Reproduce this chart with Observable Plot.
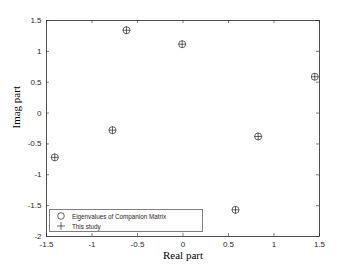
<!DOCTYPE html>
<html>
<head>
<meta charset="utf-8">
<script src="https://cdn.jsdelivr.net/npm/d3@7"></script>
<script src="https://cdn.jsdelivr.net/npm/@observablehq/plot@0.6"></script>
<style>
  html, body { margin: 0; padding: 0; background: #fff; }
  #wrap { position: relative; width: 354px; height: 265px; }
  #legend {
    position: absolute; left: 49px; top: 209px; width: 154px; height: 23px;
    border: 1px solid #7f7f7f; background: #fff; box-sizing: border-box;
    font-family: "Liberation Sans", Arial, sans-serif; font-size: 6.3px; color: #262626;
  }
  .row { position: absolute; left: 0; height: 10px; display: flex; align-items: center; }
  .row svg { margin-left: 7px; margin-right: 7px; }
</style>
</head>
<body>
<div id="wrap"></div>
<script>
const realPart = [-1.409, -0.775, -0.621, -0.009, 1.448, 0.826, 0.577];
const imagPart = [-0.718, -0.277, 1.342, 1.116, 0.589, -0.379, -1.568];
const xTicks = [-1.5, -1, -0.5, 0, 0.5, 1, 1.5];
const yTicks = [-2, -1.5, -1, -0.5, 0, 0.5, 1, 1.5];
const seriesNames = ["Eigenvalues of Companion Matrix", "This study"];

const pts = realPart.map((x, i) => ({x, y: imagPart[i]}));
const W = 354, H = 265, mL = 46, mR = 35, mT = 20, mB = 29;
const innerH = H - mT - mB, innerW = W - mL - mR;
const axisColor = "#262626";
const tk = 3;

const chart = Plot.plot({
  width: W, height: H,
  marginLeft: mL, marginRight: mR, marginTop: mT, marginBottom: mB,
  style: {fontFamily: "Liberation Sans, Arial, sans-serif", fontSize: "8px", color: axisColor, background: "#fff"},
  x: {domain: [-1.5, 1.5]},
  y: {domain: [-2, 1.5]},
  marks: [
    Plot.axisX(xTicks, {tickSize: 0, tickPadding: 5, label: null, tickFormat: d => String(d), fill: axisColor}),
    Plot.axisY(yTicks, {tickSize: 0, tickPadding: 5, label: null, tickFormat: d => String(d), fill: axisColor}),
    Plot.ruleX(xTicks, {x: d => d, insetTop: innerH - tk, stroke: axisColor, strokeWidth: 0.6}),
    Plot.ruleX(xTicks, {x: d => d, insetBottom: innerH - tk, stroke: axisColor, strokeWidth: 0.6}),
    Plot.ruleY(yTicks, {y: d => d, insetRight: innerW - tk, stroke: axisColor, strokeWidth: 0.6}),
    Plot.ruleY(yTicks, {y: d => d, insetLeft: innerW - tk, stroke: axisColor, strokeWidth: 0.6}),
    Plot.frame({stroke: axisColor, strokeWidth: 0.8}),
    Plot.dot(pts, {x: "x", y: "y", r: 3.5, stroke: "#000", strokeWidth: 0.6, fill: "none"}),
    Plot.dot(pts, {x: "x", y: "y", symbol: "plus", r: 2.5, stroke: "#000", strokeWidth: 0.6}),
    Plot.text(["Real part"], {text: d => d, frameAnchor: "bottom", dy: 22, fontFamily: "Liberation Serif, Times New Roman, serif", fontSize: 11, fill: "#000"}),
    Plot.text(["Imag part"], {text: d => d, frameAnchor: "left", dx: -30, rotate: -90, fontFamily: "Liberation Serif, Times New Roman, serif", fontSize: 11, fill: "#000"})
  ]
});
const wrap = document.getElementById("wrap");
wrap.appendChild(chart);

const legend = document.createElement("div");
legend.id = "legend";
legend.innerHTML = `
  <div class="row" style="top:1px"><svg width="8" height="8"><circle cx="4" cy="4" r="3.3" fill="none" stroke="#000" stroke-width="0.6"/></svg>${seriesNames[0]}</div>
  <div class="row" style="top:11px"><svg width="8" height="8"><path d="M0,4H8M4,0V8" stroke="#000" stroke-width="0.6"/></svg>${seriesNames[1]}</div>`;
wrap.appendChild(legend);
</script>
</body>
</html>
